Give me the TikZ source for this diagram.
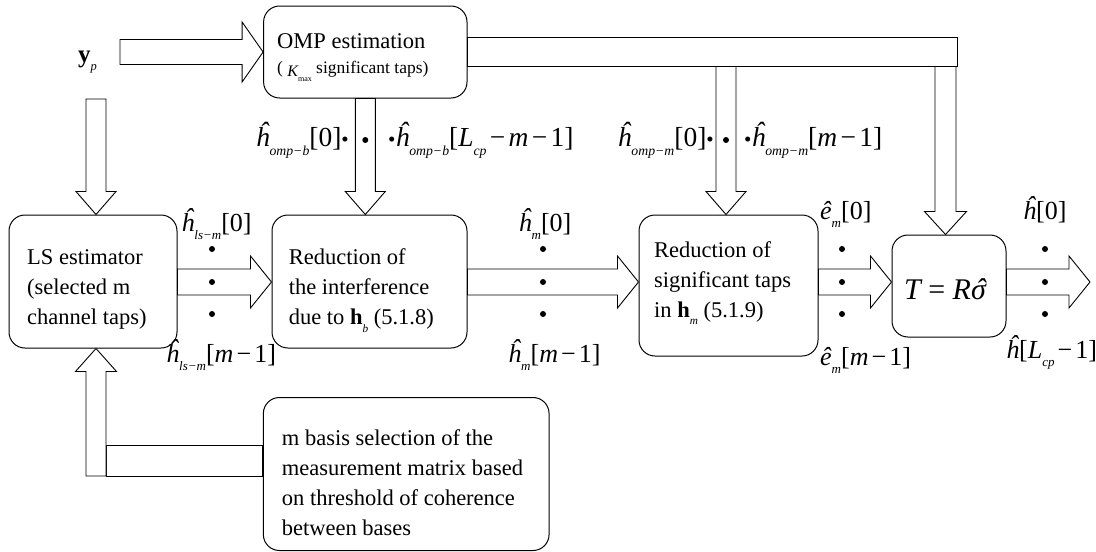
\documentclass[tikz,border=0pt]{standalone}
\usepackage{graphicx}
\usepackage{fontspec}
\setmainfont{Liberation Serif}
\usetikzlibrary{calc}

\newcommand\hh{\^{h}}
\newcommand\he{\^{e}}
\newcommand\sbb[1]{\raisebox{-0.33em}{\scalebox{0.5}{#1}}}
\newcommand\ub[1]{{\upshape #1}}
\newcommand\mn{\kern0.12em\ub{−}\kern0.12em}
\newcommand\bul{{\upshape\fontsize{21}{21}\selectfont •}}
\newcommand\hatsig{\ooalign{σ\cr\hidewidth\kern0.15em ˆ\hidewidth\cr}}

% horizontal block arrow: start, tip, half shaft, half head, head length
\newcommand\harrow[5]{\draw[blk] ($(#1)+(0,{-(#3)})$) -- ($(#2)+({-(#5)},{-(#3)})$) -- ($(#2)+({-(#5)},{-(#4)})$) -- (#2) -- ($(#2)+({-(#5)},#4)$) -- ($(#2)+({-(#5)},#3)$) -- ($(#1)+(0,#3)$) -- cycle;}
% vertical block arrow: start, tip, half shaft, half head, signed head length
\newcommand\varrow[5]{\draw[blk] ($(#1)+({-(#3)},0)$) -- ($(#2)+({-(#3)},{-(#5)})$) -- ($(#2)+({-(#4)},{-(#5)})$) -- (#2) -- ($(#2)+(#4,{-(#5)})$) -- ($(#2)+(#3,{-(#5)})$) -- ($(#1)+(#3,0)$) -- cycle;}

\begin{document}
\begin{tikzpicture}[x=1pt,y=-1pt,
 box/.style={draw, line width=1pt, rounded corners=16pt, inner sep=0pt},
 blk/.style={draw, line width=0.9pt, fill=white, line join=miter},
 txt/.style={inner sep=0pt, align=left, anchor=north west, font=\fontsize{22.5}{30}\selectfont},
 lbl/.style={inner sep=0pt, font=\fontsize{27.5}{27.5}\selectfont\itshape},
 slbl/.style={inner sep=0pt, font=\fontsize{26}{26}\selectfont\itshape},
 dot/.style={circle, fill, inner sep=0pt, minimum size=6pt}]
\useasboundingbox (0,0) rectangle (1096,552);

% boxes
\node[box, minimum width=203.4pt, minimum height=92pt] (omp) at (365.3,52) {};
\node[box, minimum width=168pt, minimum height=133pt] (ls) at (93,281.5) {};
\node[box, minimum width=195pt, minimum height=133pt] (r1) at (369.5,281.5) {};
\node[box, minimum width=179pt, minimum height=141pt] (r2) at (728.5,285.5) {};
\node[box, minimum width=114pt, minimum height=102pt] (tb) at (949,286) {};
\node[box, minimum width=285.7pt, minimum height=153pt] (bs) at (406.2,474) {};

% coordinates
\coordinate (yA) at (0,282);
\coordinate (yps) at (120,52);
\coordinate (lsR) at (ls.east |- yA);
\coordinate (r1L) at (r1.west |- yA);
\coordinate (r1R) at (r1.east |- yA);
\coordinate (r2L) at (r2.west |- yA);
\coordinate (r2R) at (r2.east |- yA);
\coordinate (tbL) at (tb.west |- yA);
\coordinate (tbR) at (tb.east |- yA);
\coordinate (outtip) at (1090,282);
\coordinate (barend) at (957,66.5);
\coordinate (xL) at (96,0);
\coordinate (ypd) at (96,99);
\coordinate (lsN) at (xL |- ls.north);
\coordinate (r1T) at (omp.south |- r1.north);
\coordinate (x2) at (726,0);
\coordinate (b2s) at (x2 |- barend);
\coordinate (r2T) at (x2 |- r2.north);
\coordinate (x3) at (945.5,0);
\coordinate (b3s) at (x3 |- barend);
\coordinate (tbT) at (x3 |- tb.north);
\coordinate (ups) at (96,476);
\coordinate (lsS) at (xL |- ls.south);
\coordinate (hbl) at (106,445);

% block arrows
\harrow{yps}{omp.west}{12.5}{30}{21}
\draw[blk] ($(omp.east)+(0,-15)$) rectangle (barend);
\varrow{b2s}{r2T}{10}{20}{23}
\varrow{b3s}{tbT}{10.5}{21}{23}
\varrow{omp.south}{r1T}{10}{20}{23}
\varrow{ypd}{lsN}{10}{20}{23}
\draw[blk] (hbl) rectangle (bs.west |- ups);
\varrow{ups}{lsS}{10}{20.5}{-23}
\harrow{lsR}{r1L}{13}{26}{21}
\harrow{r1R}{r2L}{13}{26}{21}
\harrow{r2R}{tbL}{13}{26}{21}
\harrow{tbR}{outtip}{13}{26}{21}

% box texts
\node[inner sep=0pt, anchor=base west, font=\fontsize{22.5}{30}\selectfont] (ompt1) at (277,48) {OMP estimation};
\node[inner sep=0pt, anchor=base west, font=\fontsize{17.5}{20}\selectfont] (ompt2) at (277,73) {( \raisebox{-0.18em}{\fontsize{16}{16}\selectfont\itshape K\sbb{\upshape max}} significant taps)};
\node[txt] (lst) at (27,243.6) {\strut LS estimator\\(selected m\\channel taps)};
\node[txt] (r1t) at (288.6,243.6) {\strut Reduction of\\the interference\\due to \textbf{h}\sbb{\itshape b} (5.1.8)};
\node[txt] (r2t) at (654,236) {\strut Reduction of\\significant taps\\in \textbf{h}\sbb{\itshape m} (5.1.9)};
\node[txt] (bst) at (281.7,424) {\strut m basis selection of the\\measurement matrix based\\on threshold of coherence\\between bases};
\node[inner sep=0pt, anchor=base, font=\fontsize{30}{30}\selectfont\itshape] (tt) at (945,299) {T \ub{=} R\hatsig};
\node[inner sep=0pt, anchor=base west, font=\fontsize{25}{25}\selectfont] (yp) at (78,62) {\textbf{y}\sbb{\itshape p}};

% top labels
\node[lbl, anchor=base east] (l1) at (349,146) {\hh\sbb{omp−b}\ub{[0]}\bul};
\node[lbl, anchor=base west] (l2) at (388,146) {\bul\hh\sbb{omp−b}\ub{[}L\sbb{cp}\mn m\mn\ub{1]}};
\node[lbl, anchor=base east] (l3) at (714,146) {\hh\sbb{omp−m}\ub{[0]}\bul};
\node[lbl, anchor=base west] (l4) at (744,146) {\bul\hh\sbb{omp−m}\ub{[}m\mn\ub{1]}};
\node[dot] (s1) at (365.3,140) {};
\node[dot] (s2) at (726,140) {};

% side labels
\node[slbl, anchor=base] (a1) at (216.5,231) {\hh\sbb{ls−m}\ub{[0]}};
\node[slbl, anchor=base west] (a2) at (166,362) {\hh\sbb{ls−m}\ub{[}m\mn\ub{1]}};
\node[slbl, anchor=base] (b1) at (545,231) {\hh\sbb{m}\ub{[0]}};
\node[slbl, anchor=base west] (b2) at (508,362) {\hh\sbb{m}\ub{[}m\mn\ub{1]}};
\node[slbl, anchor=base west] (c1) at (820,219) {\he\sbb{m}\ub{[0]}};
\node[slbl, anchor=base west] (c2) at (820,365) {\he\sbb{m}\ub{[}m\mn\ub{1]}};
\node[slbl, anchor=base west] (d1) at (1023,219) {\hh\ub{[0]}};
\node[slbl, anchor=base west] (d2) at (1006,358) {\hh\ub{[}L\sbb{cp}\mn\ub{1]}};

% vertical dots
\foreach \c/\x in {p/212, q/543, r/842, s/1045} {
  \foreach \i/\y in {1/249, 2/282, 3/314} {
    \node[dot] (\c\i) at (\x,\y) {};
  }
}
\end{tikzpicture}
\end{document}
